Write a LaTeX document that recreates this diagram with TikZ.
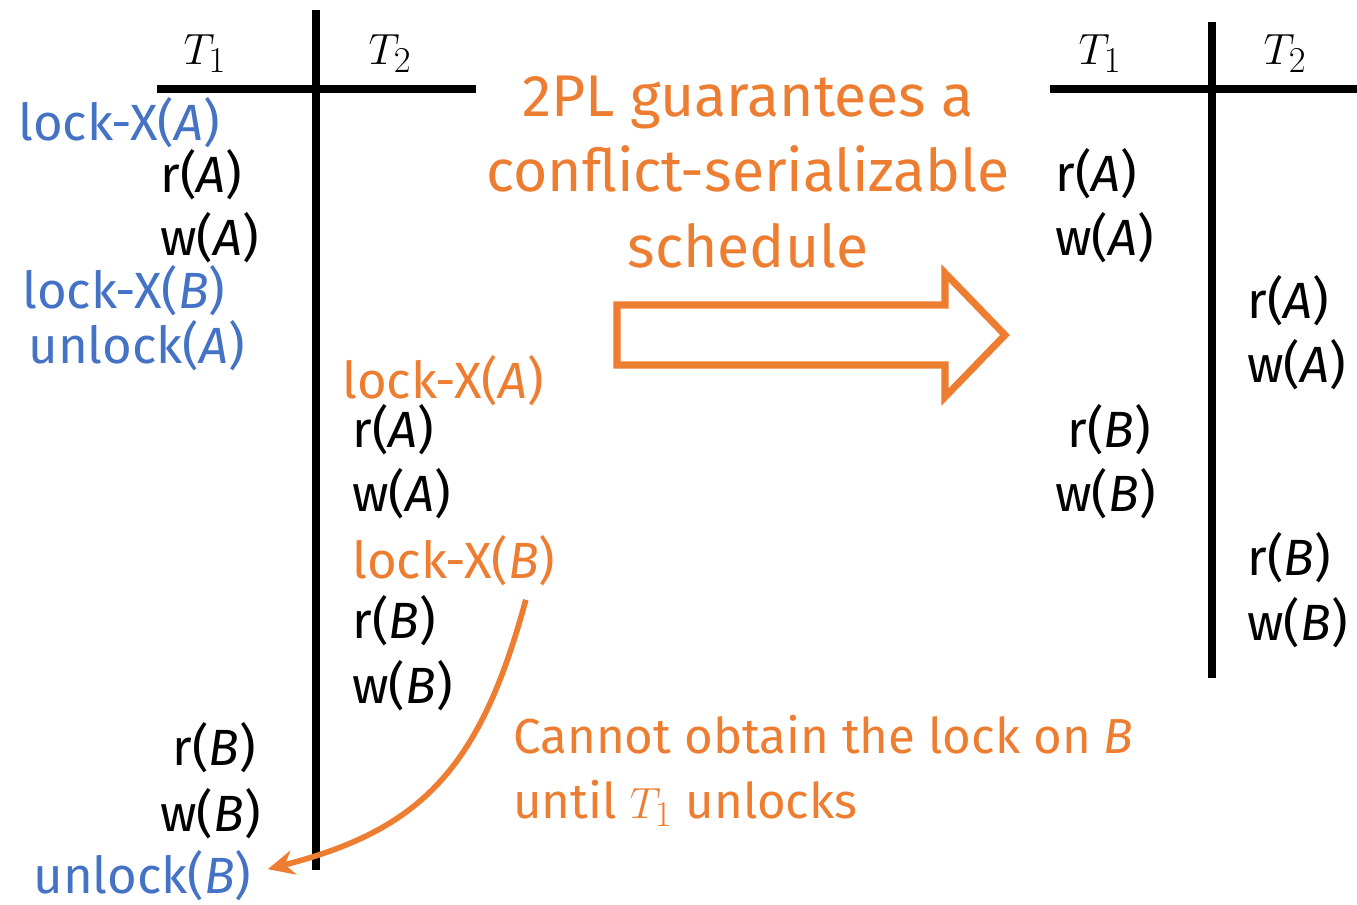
\documentclass[tikz,border=0pt]{standalone}
\usepackage{fontspec}
\setmainfont{Fira Sans}
\usepackage{xcolor}
\usepackage{tikz}
\usetikzlibrary{calc,arrows.meta}
\definecolor{ink}{HTML}{000000}
\definecolor{lockblue}{HTML}{4472C4}
\definecolor{lockorange}{HTML}{ED7D31}
\tikzset{
  rule/.style={draw=ink, line width=4pt},
  op/.style={text=ink, font=\fontsize{29}{34}\selectfont, anchor=base west, inner sep=0pt},
  lkb/.style={op, text=lockblue},
  lko/.style={op, text=lockorange},
  hdr/.style={text=ink, font=\fontsize{32}{36}\selectfont, anchor=base, inner sep=0pt},
  note/.style={op, text=lockorange, font=\fontsize{28}{34}\selectfont},
  big/.style={text=lockorange, font=\fontsize{33.5}{43}\selectfont, align=center, inner sep=0pt},
  hollow/.style={draw=lockorange, line width=4pt, line join=miter},
  wait/.style={draw=lockorange, line width=3.2pt, -{Stealth[length=15pt,width=14pt]}},
}
\newcommand{\vA}{\textit{A}}
\newcommand{\vB}{\textit{B}}

\begin{document}
\begin{tikzpicture}[x=0.02cm,y=-0.02cm]
\useasboundingbox (0,0) rectangle (1357,904);

% left schedule with locks
\draw[rule] (316,10) -- (316,870);
\draw[rule] (157,89) -- (476,89);
\node[hdr] (lt1) at (205,64) {$T_1$};
\node[hdr] (lt2) at (390,64) {$T_2$};
\node[lkb] (lxa1) at (18,140) {lock-X(\vA)};
\node[op]  (lra1) at (160,192) {r(\vA)};
\node[op]  (lwa1) at (160,255) {w(\vA)};
\node[lkb] (lxb1) at (22,308) {lock-X(\vB)};
\node[lkb] (ula1) at (28,363) {unlock(\vA)};
\node[lko] (lxa2) at (342,398) {lock-X(\vA)};
\node[op]  (lra2) at (352,447) {r(\vA)};
\node[op]  (lwa2) at (352,511) {w(\vA)};
\node[lko] (lxb2) at (352,578) {lock-X(\vB)};
\node[op]  (lrb2) at (352,638) {r(\vB)};
\node[op]  (lwb2) at (352,703) {w(\vB)};
\node[op]  (lrb1) at (172,765) {r(\vB)};
\node[op]  (lwb1) at (160,831) {w(\vB)};
\node[lkb] (ulb1) at (33,893) {unlock(\vB)};

\draw[wait] ($(lxb2.south east)+(-30,14)$) .. controls (480,770) and (420,830) .. ($(ulb1.east)+(16,-6)$);
\node[note] (why1) at (513,753) {Cannot obtain the lock on \vB};
\node[note] (why2) at (513,818) {until $T_1$ unlocks};

% claim and big arrow
\node[big] (claim) at (748,172) {2PL guarantees a\\conflict-serializable\\schedule};
\draw[hollow] (617,305) -- (945,305) -- (945,273) -- (1005,335) -- (945,397) -- (945,365) -- (617,365) -- cycle;

% right serial schedule
\draw[rule] (1212,22) -- (1212,678);
\draw[rule] (1050,89) -- (1357,89);
\node[hdr] (rt1) at (1100,64) {$T_1$};
\node[hdr] (rt2) at (1285,64) {$T_2$};
\node[op] (rra1) at (1055,191) {r(\vA)};
\node[op] (rwa1) at (1055,255) {w(\vA)};
\node[op] (rra2) at (1247,318) {r(\vA)};
\node[op] (rwa2) at (1247,382) {w(\vA)};
\node[op] (rrb1) at (1067,447) {r(\vB)};
\node[op] (rwb1) at (1055,511) {w(\vB)};
\node[op] (rrb2) at (1247,575) {r(\vB)};
\node[op] (rwb2) at (1247,640) {w(\vB)};
\end{tikzpicture}
\end{document}
